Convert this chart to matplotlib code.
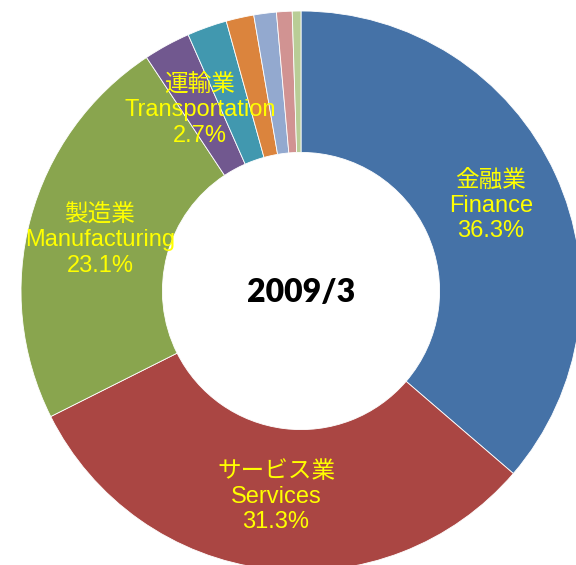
import matplotlib.pyplot as plt

# sector shares, 2009/3
names_jp = ['金融業', 'サービス業', '製造業', '運輸業', '', '', '', '', '']
names_en = ['Finance', 'Services', 'Manufacturing', 'Transportation', '', '', '', '', '']
shares = [36.3, 31.3, 23.1, 2.7, 2.3, 1.6, 1.3, 0.9, 0.5]
colors = ['#4572A7', '#AA4643', '#89A54E', '#71588F', '#4198AF',
          '#DB843D', '#93A9CF', '#D19392', '#B9CD96']

W, H = 576, 565
fig = plt.figure(figsize=(W / 100, H / 100), dpi=100)
ax = fig.add_axes([0, 0, 1, 1])

cx, cy, r = 301, H - 291, 280
ax.pie(shares, colors=colors, startangle=90, counterclock=False,
       center=(cx, cy), radius=r,
       wedgeprops=dict(width=r * 0.505, edgecolor='white', linewidth=0.6))

ax.set_xlim(0, W)
ax.set_ylim(0, H)
ax.set_aspect('equal')
ax.axis('off')

# label spots in pixel coords (x, y from top)
label_pos = [(491, 206), (276, 497), (100, 240), (200, 110)]
fam = ['Liberation Sans', 'Noto Sans CJK JP']
for i, (lx, ly) in enumerate(label_pos):
    txt = f'{names_jp[i]}\n{names_en[i]}\n{shares[i]:.1f}%'
    ax.text(lx, H - ly, txt, ha='center', va='center', color='#FFFF00',
            fontsize=17, family=fam, linespacing=1.2)

ax.text(cx, cy - 2, '2009/3', ha='center', va='center', fontsize=23,
        fontweight='heavy', family=['Lato', 'DejaVu Sans'], color='black')

fig.savefig('out.png', dpi=100)
